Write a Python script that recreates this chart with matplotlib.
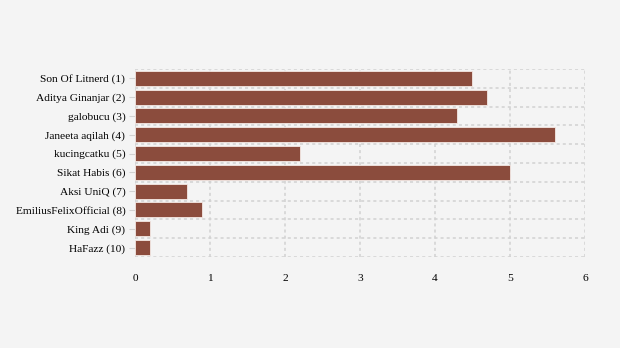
import numpy as np
import matplotlib.pyplot as plt

labels = ["Son Of Litnerd (1)", "Aditya Ginanjar (2)", "galobucu (3)", "Janeeta aqilah (4)",
          "kucingcatku (5)", "Sikat Habis (6)", "Aksi UniQ (7)", "EmiliusFelixOfficial (8)",
          "King Adi (9)", "HaFazz (10)"]
values = [4.5, 4.7, 4.3, 5.6, 2.2, 5.0, 0.7, 0.9, 0.2, 0.2]
xticks = [0, 1, 2, 3, 4, 5, 6]

plt.rcParams['font.family'] = ['Liberation Serif', 'DejaVu Serif']

bg = '#f4f4f4'
fig = plt.figure(figsize=(6.2, 3.48), dpi=100)
fig.patch.set_facecolor(bg)
ax = fig.add_axes([0.2177, 0.2615, 0.7258, 0.5405])
ax.set_facecolor(bg)

y = np.arange(len(labels))
ax.barh(y, values, height=0.8, color='#8b4c3d', edgecolor='#f4e8e4', linewidth=0.6, zorder=3)

ax.set_xlim(0, 6)
ax.set_ylim(len(labels) - 0.5, -0.5)
ax.set_xticks(xticks)
ax.set_yticks(y)
ax.set_yticklabels(labels)
ax.set_yticks(np.arange(-0.5, len(labels)), minor=True)

ax.grid(axis='x', which='major', color='#d2d2d2', linestyle=(0, (2, 2)), linewidth=1.1, zorder=0)
ax.grid(axis='y', which='minor', color='#d2d2d2', linestyle=(0, (2, 2)), linewidth=1.1, zorder=0)
ax.tick_params(axis='y', which='minor', length=0)
ax.tick_params(axis='y', which='major', length=4, color='#d2d2d2', labelsize=8.2, pad=3)
ax.tick_params(axis='x', length=0, labelsize=8.2, pad=12)

for s in ax.spines.values():
    s.set_visible(False)

fig.savefig('out.png', dpi=100, facecolor=bg)
